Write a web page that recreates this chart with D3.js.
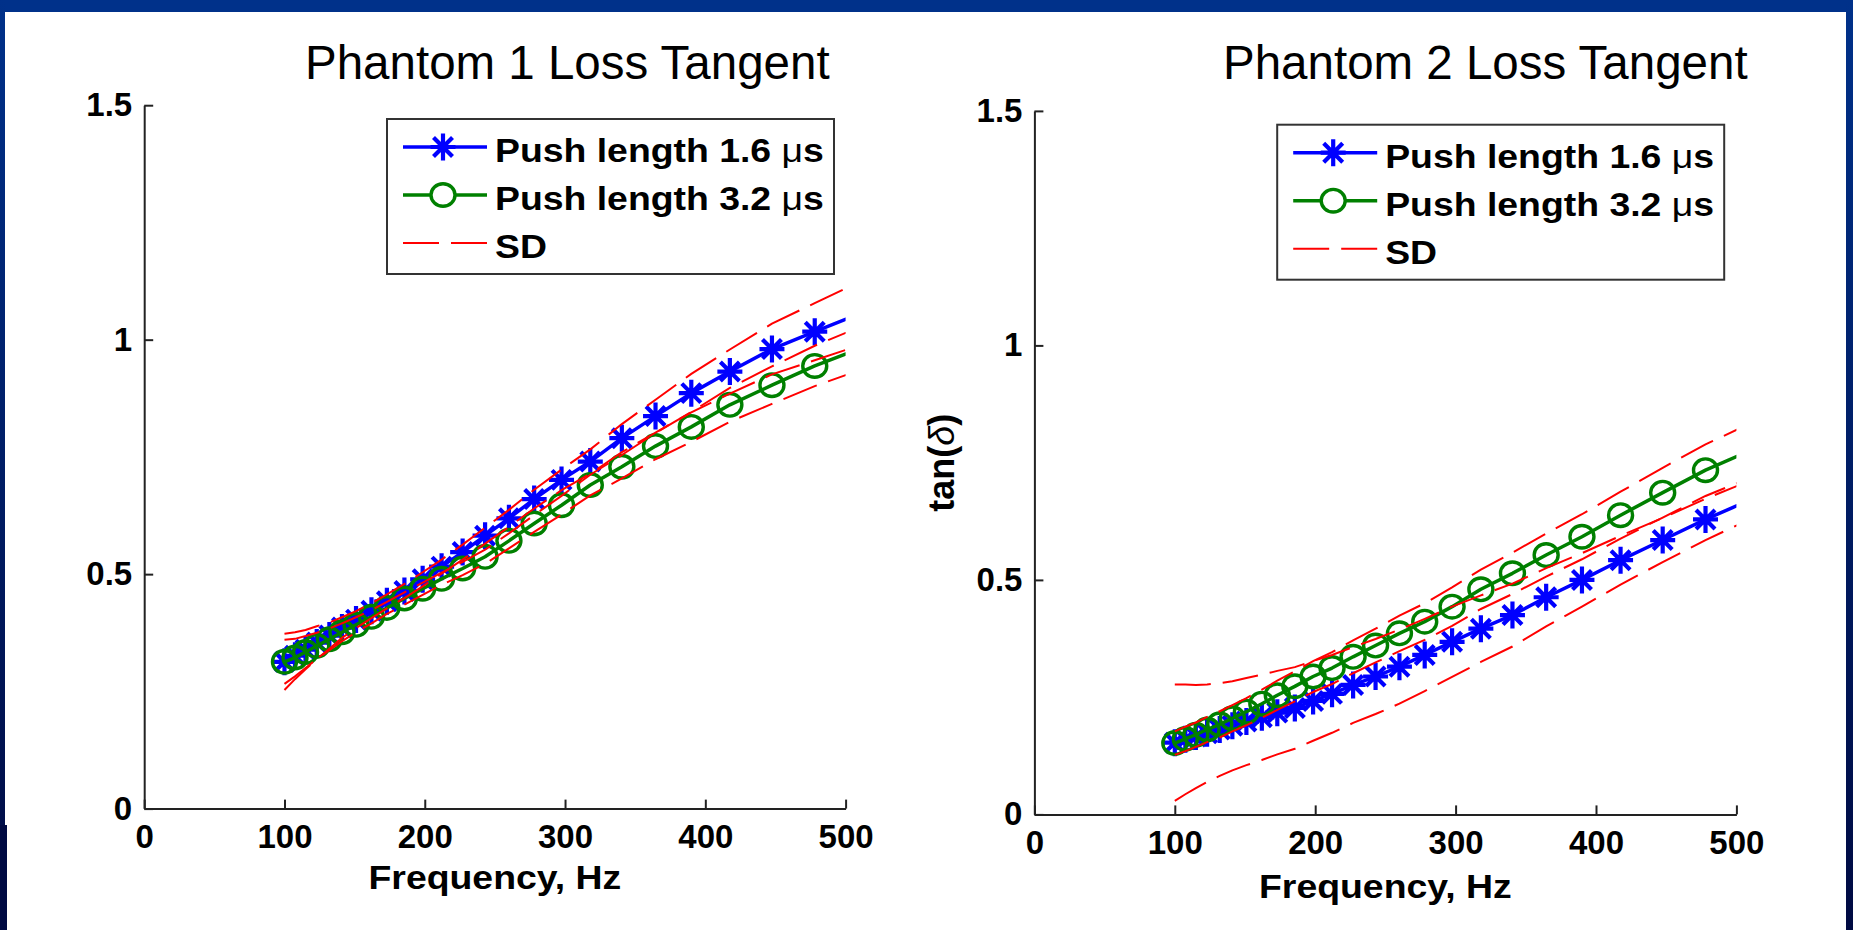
<!DOCTYPE html>
<html>
<head>
<meta charset="utf-8">
<script src="https://cdn.jsdelivr.net/npm/d3@7"></script>
<style>
  html, body { margin: 0; padding: 0; background: #fff; }
  svg { display: block; }
  text { font-family: "Liberation Sans", Arial, Helvetica, sans-serif; }
</style>
</head>
<body>
<svg id="fig" width="1853" height="930"></svg>
<script>
// Frequencies (Hz) of the measured points; the last one lies past the 500 Hz axis limit
const freq = [100, 107.5, 115, 123, 132, 141, 151, 162, 173, 185.5, 198.5, 212, 227, 243,
              260, 278, 297.5, 318, 340.5, 364.5, 390, 417.5, 447.5, 478, 511];

// Phantom 1: mean loss tangent and standard deviation per push length
const p1Short   = [0.313, 0.326, 0.339, 0.354, 0.369, 0.386, 0.403, 0.422, 0.442, 0.464, 0.489, 0.516, 0.547,
                   0.582, 0.619, 0.660, 0.701, 0.740, 0.790, 0.837, 0.886, 0.932, 0.980, 1.017, 1.057];
const p1Long    = [0.313, 0.322, 0.334, 0.347, 0.361, 0.376, 0.392, 0.409, 0.428, 0.448, 0.469, 0.490, 0.512,
                   0.537, 0.571, 0.608, 0.647, 0.690, 0.729, 0.773, 0.814, 0.861, 0.903, 0.944, 0.982];
const p1ShortSD = [0.060, 0.050, 0.042, 0.035, 0.028, 0.022, 0.018, 0.016, 0.015, 0.015, 0.015, 0.015, 0.016,
                   0.017, 0.018, 0.020, 0.022, 0.026, 0.030, 0.035, 0.041, 0.047, 0.054, 0.061, 0.068];
const p1LongSD  = [0.047, 0.040, 0.034, 0.028, 0.023, 0.019, 0.016, 0.014, 0.013, 0.013, 0.013, 0.013, 0.014,
                   0.015, 0.016, 0.018, 0.020, 0.022, 0.025, 0.028, 0.032, 0.036, 0.040, 0.043, 0.046];

// Phantom 2
const p2Short   = [0.153, 0.160, 0.166, 0.173, 0.181, 0.189, 0.198, 0.207, 0.217, 0.227, 0.242, 0.257, 0.276,
                   0.294, 0.315, 0.340, 0.368, 0.396, 0.425, 0.463, 0.500, 0.542, 0.585, 0.629, 0.672];
const p2Long    = [0.152, 0.161, 0.170, 0.181, 0.192, 0.205, 0.219, 0.236, 0.254, 0.273, 0.294, 0.312, 0.336,
                   0.360, 0.386, 0.411, 0.443, 0.480, 0.514, 0.553, 0.592, 0.638, 0.686, 0.734, 0.777];
const p2ShortSD = [0.124, 0.117, 0.110, 0.104, 0.099, 0.095, 0.093, 0.091, 0.089, 0.087, 0.085, 0.083, 0.081,
                   0.080, 0.079, 0.077, 0.075, 0.071, 0.067, 0.062, 0.057, 0.052, 0.047, 0.044, 0.041];
const p2LongSD  = [0.025, 0.026, 0.026, 0.027, 0.028, 0.028, 0.029, 0.030, 0.031, 0.032, 0.033, 0.034, 0.035,
                   0.036, 0.038, 0.039, 0.041, 0.042, 0.044, 0.046, 0.048, 0.050, 0.053, 0.055, 0.058];

const xTicks = [0, 100, 200, 300, 400, 500];
const yTicks = [0, 0.5, 1, 1.5];
const legendLabels = ["Push length 1.6 \u03bcs", "Push length 3.2 \u03bcs", "SD"];
const titles = ["Phantom 1 Loss Tangent", "Phantom 2 Loss Tangent"];
const xLabel = "Frequency, Hz";

const BLUE = "#0000ff", GREEN = "#008000", RED = "#ff0000", AXIS = "#222";

const svg = d3.select("#fig");
const defs = svg.append("defs");

// slide frame
const grad = defs.append("linearGradient").attr("id", "edge")
  .attr("x1", 0).attr("y1", 0).attr("x2", 0).attr("y2", 1);
grad.append("stop").attr("offset", 0).attr("stop-color", "#00318a");
grad.append("stop").attr("offset", 1).attr("stop-color", "#000a42");
svg.append("rect").attr("x", 0).attr("y", 0).attr("width", 1853).attr("height", 12).attr("fill", "#00318a");
svg.append("rect").attr("x", 0).attr("y", 0).attr("width", 5).attr("height", 930).attr("fill", "url(#edge)");
svg.append("rect").attr("x", 0).attr("y", 825).attr("width", 7).attr("height", 105).attr("fill", "#000a42");
svg.append("rect").attr("x", 1846).attr("y", 0).attr("width", 7).attr("height", 930).attr("fill", "url(#edge)");

// MATLAB-style '*' marker: plus and cross overlaid
const starPath = "M0,-13.5V13.5M-12.5,0H12.5M-9.5,-9.5L9.5,9.5M-9.5,9.5L9.5,-9.5";

function addLabel(sel, label) {
  // the micro sign is set in a lighter weight, as the symbol font does
  const parts = label.split("\u03bc");
  parts.forEach((p, i) => {
    if (i > 0) sel.append("tspan").attr("font-weight", "normal").text("\u03bc");
    sel.append("tspan").text(p);
  });
}

const panels = [
  { left: 144.2, top: 105.2, w: 701.4, h: 703.4, title: titles[0], tx: 305, ty: 79, ylabel: false, xlOff: 80,
    short: p1Short, long: p1Long, shortSD: p1ShortSD, longSD: p1LongSD },
  { left: 1034.4, top: 110.9, w: 702.0, h: 703.5, title: titles[1], tx: 1223, ty: 79, ylabel: true, xlOff: 84,
    short: p2Short, long: p2Long, shortSD: p2ShortSD, longSD: p2LongSD }
];

panels.forEach((p, pi) => {
  svg.append("text").attr("x", p.tx).attr("y", p.ty)
    .attr("font-size", 47.5).attr("fill", "#000").text(p.title);

  const g = svg.append("g").attr("transform", `translate(${p.left},${p.top})`);
  const x = d3.scaleLinear().domain([0, 500]).range([0, p.w]);
  const y = d3.scaleLinear().domain([0, 1.5]).range([p.h, 0]);

  defs.append("clipPath").attr("id", "clip" + pi)
    .append("rect").attr("x", 0).attr("y", 0).attr("width", p.w).attr("height", p.h);

  // axes (MATLAB style: ticks pointing inward, no box)
  const xAxis = d3.axisBottom(x).tickValues(xTicks).tickFormat(d => String(d))
    .tickSizeInner(-9).tickSizeOuter(0).tickPadding(16);
  const yAxis = d3.axisLeft(y).tickValues(yTicks).tickFormat(d => String(d))
    .tickSizeInner(-9).tickSizeOuter(0).tickPadding(12);

  const gx = g.append("g").attr("transform", `translate(0,${p.h})`).call(xAxis);
  const gy = g.append("g").call(yAxis);
  [gx, gy].forEach(a => {
    a.attr("font-size", 33).attr("font-weight", "bold")
     .attr("font-family", "'Liberation Sans', Arial, sans-serif");
    a.select(".domain").attr("stroke", AXIS).attr("stroke-width", 2);
    a.selectAll(".tick line").attr("stroke", AXIS).attr("stroke-width", 2);
    a.selectAll(".tick text").attr("fill", "#000");
  });

  // data
  const plot = g.append("g").attr("clip-path", `url(#clip${pi})`);
  const line = d3.line().x((d, i) => x(freq[i])).y(d => y(d));

  plot.append("path").datum(p.short).attr("d", line)
    .attr("fill", "none").attr("stroke", BLUE).attr("stroke-width", 3.5).attr("stroke-linejoin", "round");
  plot.selectAll(".star").data(p.short).join("path").attr("class", "star")
    .attr("transform", (d, i) => `translate(${x(freq[i])},${y(d)})`)
    .attr("d", starPath).attr("fill", "none").attr("stroke", BLUE).attr("stroke-width", 4.2);

  plot.append("path").datum(p.long).attr("d", line)
    .attr("fill", "none").attr("stroke", GREEN).attr("stroke-width", 3.5).attr("stroke-linejoin", "round");
  plot.selectAll(".circ").data(p.long).join("ellipse").attr("class", "circ")
    .attr("cx", (d, i) => x(freq[i])).attr("cy", d => y(d))
    .attr("rx", 12).attr("ry", 11.3).attr("fill", "none").attr("stroke", GREEN).attr("stroke-width", 3.4);

  const bounds = [
    p.short.map((v, i) => v + p.shortSD[i]), p.short.map((v, i) => v - p.shortSD[i]),
    p.long.map((v, i) => v + p.longSD[i]),   p.long.map((v, i) => v - p.longSD[i])
  ];
  bounds.forEach(b => {
    plot.append("path").datum(b).attr("d", line)
      .attr("fill", "none").attr("stroke", RED).attr("stroke-width", 2).attr("stroke-dasharray", "36,12");
  });

  // legend
  const lg = g.append("g").attr("transform", "translate(242.8,13.8)");
  lg.append("rect").attr("width", 447).attr("height", 155)
    .attr("fill", "#fff").attr("stroke", "#333").attr("stroke-width", 2);
  const rows = [28, 76, 124];
  const rowColors = [BLUE, GREEN, RED];
  rows.forEach((ry, ri) => {
    const l = lg.append("line").attr("x1", 16).attr("x2", 100).attr("y1", ry).attr("y2", ry)
      .attr("stroke", rowColors[ri]).attr("stroke-width", ri === 2 ? 2 : 3.5);
    if (ri === 2) l.attr("stroke-dasharray", "36,12");
    if (ri === 0) lg.append("path").attr("transform", `translate(56,${ry})`).attr("d", starPath)
      .attr("fill", "none").attr("stroke", BLUE).attr("stroke-width", 4.2);
    if (ri === 1) lg.append("ellipse").attr("cx", 56).attr("cy", ry).attr("rx", 12).attr("ry", 11.3)
      .attr("fill", "#fff").attr("stroke", GREEN).attr("stroke-width", 3.4);
    const t = lg.append("text").attr("transform", `translate(108,${ry + 15}) scale(1.15,1)`)
      .attr("font-size", 32.5).attr("font-weight", "bold").attr("fill", "#000");
    addLabel(t, legendLabels[ri]);
  });

  // axis titles
  g.append("text").attr("transform", `translate(${p.w / 2},${p.h + p.xlOff}) scale(1.1,1)`)
    .attr("text-anchor", "middle").attr("font-size", 34).attr("font-weight", "bold")
    .attr("fill", "#000").text(xLabel);

  if (p.ylabel) {
    const yt = g.append("text").attr("transform", `translate(-80,${p.h / 2}) rotate(-90)`)
      .attr("text-anchor", "middle").attr("font-size", 36).attr("font-weight", "bold").attr("fill", "#000");
    yt.append("tspan").text("tan(");
    yt.append("tspan").attr("font-style", "italic").attr("font-weight", "normal").text("\u03b4");
    yt.append("tspan").text(")");
  }
});
</script>
</body>
</html>
